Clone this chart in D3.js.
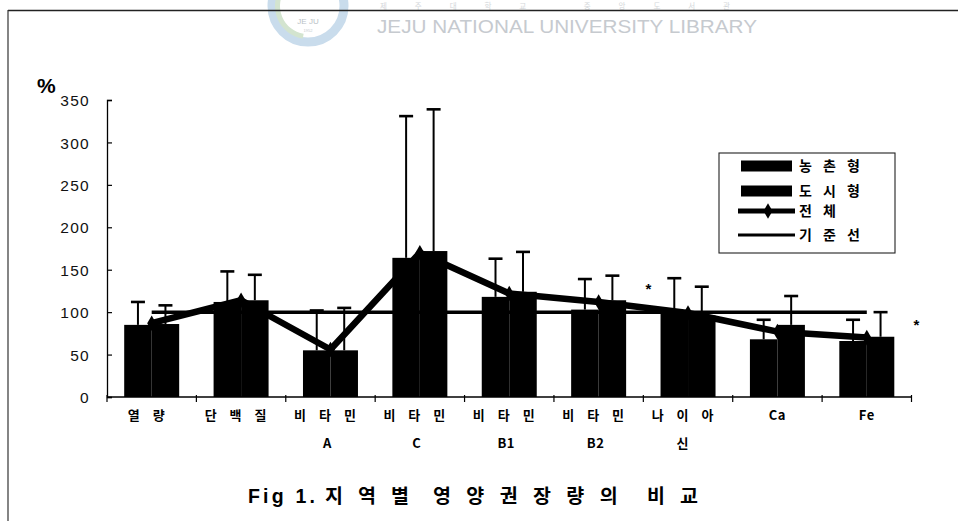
<!DOCTYPE html>
<html>
<head>
<meta charset="utf-8">
<script src="https://cdn.jsdelivr.net/npm/d3@7"></script>
<style>
  html, body { margin: 0; padding: 0; background: #fff; }
  svg { display: block; }
  .kr { font-family: "Noto Sans CJK KR", "Noto Sans", sans-serif; }
  .num { font-family: "Liberation Sans", Arial, sans-serif; }
</style>
</head>
<body>
<svg id="chart" width="958" height="521"></svg>
<script>
// Nutrient categories (axis labels split over two lines)
const categories = ["열량", "단백질", "비타민A", "비타민C", "비타민B1", "비타민B2", "나이아신", "Ca", "Fe"];
const labelLine1 = ["열 량", "단 백 질", "비 타 민", "비 타 민", "비 타 민", "비 타 민", "나 이 아", "Ca", "Fe"];
const labelLine2 = ["", "", "A", "C", "B1", "B2", "신", "", ""];

// Percent of recommended intake, mean and SD
const seriesNames = ["농촌형", "도시형"];
const ruralMean = [85, 112, 55, 164, 118, 103, 101, 68, 66];
const ruralSD   = [27, 36, 47, 167, 45, 36, 39, 23, 25];
const urbanMean = [86, 114, 55, 172, 124, 114, 96, 85, 71];
const urbanSD   = [22, 30, 50, 167, 47, 29, 34, 34, 29];
const totalMean = [87, 114, 56, 170, 122, 112, 99, 77, 70];
const standardLevel = 100;

// Significance marks: category index, value height, placement
const starMarks = [
  { cat: 6, value: 131, edge: "start" },
  { cat: 8, value: 88, edge: "end" }
];

const yTicks = [0, 50, 100, 150, 200, 250, 300, 350];
const legendLabels = ["농 촌 형", "도 시 형", "전 체", "기 준 선"];
// Caption words with their left edges
const titleWords = [
  { t: "Fig 1.", x: 248, ls: 3.2, latin: true },
  { t: "지역별", x: 325, ls: 15 },
  { t: "영양권장량의", x: 433, ls: 15.4 },
  { t: "비교", x: 647, ls: 15 }
];

const svg = d3.select("#chart");

// ---- page furniture: library watermark and frame ----
const wm = svg.append("g").attr("class", "watermark");
wm.append("circle")
  .attr("cx", 308).attr("cy", 6).attr("r", 36)
  .attr("fill", "none").attr("stroke", "#c9dcec").attr("stroke-width", 9);
wm.append("path")
  .attr("d", d3.arc()({ innerRadius: 28, outerRadius: 33, startAngle: Math.PI * 1.05, endAngle: Math.PI * 1.7 }))
  .attr("transform", "translate(308,6)")
  .attr("fill", "#d3e4cf");
wm.append("text").attr("class", "num")
  .attr("x", 308).attr("y", 24).attr("text-anchor", "middle")
  .attr("font-size", 8).attr("fill", "#b9bfc6").text("JE JU");
wm.append("text").attr("class", "num")
  .attr("x", 308).attr("y", 32).attr("text-anchor", "middle")
  .attr("font-size", 4).attr("fill", "#c4c9ce").text("1952");
wm.append("text").attr("class", "kr")
  .attr("x", 380).attr("y", 9).attr("font-size", 7.5)
  .attr("textLength", 350).attr("lengthAdjust", "spacing")
  .attr("fill", "#d4d7da").text("제주대학교 중앙도서관");
wm.append("text").attr("class", "num")
  .attr("x", 377).attr("y", 32.5).attr("font-size", 19)
  .attr("textLength", 380).attr("lengthAdjust", "spacingAndGlyphs")
  .attr("fill", "#c6cacf").text("JEJU NATIONAL UNIVERSITY  LIBRARY");

svg.append("line").attr("x1", 8).attr("x2", 958).attr("y1", 10.5).attr("y2", 10.5)
  .attr("stroke", "#222").attr("stroke-width", 1.5);
svg.append("line").attr("x1", 8).attr("x2", 8).attr("y1", 10).attr("y2", 521)
  .attr("stroke", "#333").attr("stroke-width", 1.2);

// ---- scales ----
const plotLeft = 107, plotRight = 911.5, plotTop = 100, plotBottom = 397;

const x = d3.scaleBand().domain(categories).range([plotLeft, plotRight]).paddingInner(0).paddingOuter(0);
const bw = x.bandwidth();
const groupPad = 17.2;
const xSeries = d3.scaleBand().domain(seriesNames).range([groupPad, bw - groupPad]).padding(0);
const y = d3.scaleLinear().domain([0, 350]).range([plotBottom, plotTop]);

const rows = categories.map((c, i) => ({
  cat: c,
  vals: [
    { s: seriesNames[0], mean: ruralMean[i], sd: ruralSD[i] },
    { s: seriesNames[1], mean: urbanMean[i], sd: urbanSD[i] }
  ],
  total: totalMean[i]
}));

// ---- y axis ----
const yAxis = d3.axisLeft(y).tickValues(yTicks).tickSize(-5).tickPadding(17).tickFormat(d3.format("d"));
const yG = svg.append("g").attr("transform", `translate(${plotLeft},0)`).call(yAxis);
yG.select(".domain").attr("stroke", "#000").attr("stroke-width", 1.3);
yG.selectAll(".tick line").attr("stroke", "#000").attr("stroke-width", 1.2);
yG.selectAll(".tick text")
  .attr("class", "num")
  .attr("font-size", 15.5).attr("fill", "#111")
  .attr("letter-spacing", 1.3)
  .attr("dy", "0.36em");

svg.append("text").attr("class", "num")
  .attr("x", 37).attr("y", 93).attr("font-size", 21).attr("font-weight", "bold")
  .attr("fill", "#000").text("%");

// ---- bars ----
const groups = svg.append("g").selectAll("g.cat").data(rows).join("g")
  .attr("class", "cat")
  .attr("transform", d => `translate(${x(d.cat)},0)`);

groups.selectAll("rect").data(d => d.vals).join("rect")
  .attr("x", d => xSeries(d.s))
  .attr("width", xSeries.bandwidth())
  .attr("y", d => y(d.mean))
  .attr("height", d => y(0) - y(d.mean))
  .attr("fill", "#000");

// ---- recommended level line ----
const centers = categories.map(c => x(c) + bw / 2);
svg.append("line")
  .attr("x1", centers[0]).attr("x2", centers[centers.length - 1])
  .attr("y1", y(standardLevel)).attr("y2", y(standardLevel))
  .attr("stroke", "#000").attr("stroke-width", 3.5);

// ---- total line with diamond markers ----
const totalLine = d3.line().x((d, i) => centers[i]).y(d => y(d));
svg.append("path").datum(totalMean)
  .attr("d", totalLine)
  .attr("fill", "none").attr("stroke", "#000").attr("stroke-width", 6.5)
  .attr("stroke-linejoin", "round");
svg.append("g").selectAll("path").data(totalMean).join("path")
  .attr("d", d3.symbol(d3.symbolDiamond, 70))
  .attr("transform", (d, i) => `translate(${centers[i]},${y(d)})`)
  .attr("fill", "#000");

// ---- error bars (mean + SD) ----
const eb = groups.selectAll("g.err").data(d => d.vals).join("g").attr("class", "err");
eb.append("line")
  .attr("x1", d => xSeries(d.s) + xSeries.bandwidth() / 2)
  .attr("x2", d => xSeries(d.s) + xSeries.bandwidth() / 2)
  .attr("y1", d => y(d.mean))
  .attr("y2", d => y(d.mean + d.sd))
  .attr("stroke", "#000").attr("stroke-width", 2);
eb.append("line")
  .attr("x1", d => xSeries(d.s) + xSeries.bandwidth() / 2 - 7)
  .attr("x2", d => xSeries(d.s) + xSeries.bandwidth() / 2 + 7)
  .attr("y1", d => y(d.mean + d.sd))
  .attr("y2", d => y(d.mean + d.sd))
  .attr("stroke", "#000").attr("stroke-width", 2.6);

// ---- x axis ----
svg.append("line")
  .attr("x1", plotLeft).attr("x2", plotRight)
  .attr("y1", y(0)).attr("y2", y(0))
  .attr("stroke", "#000").attr("stroke-width", 1.3);
const boundaries = categories.map(c => x(c)).concat([plotRight]);
svg.append("g").selectAll("line").data(boundaries).join("line")
  .attr("x1", d => d).attr("x2", d => d)
  .attr("y1", y(0) - 2).attr("y2", y(0) + 5)
  .attr("stroke", "#000").attr("stroke-width", 1.2);

const isHangul = s => /[\uac00-\ud7a3]/.test(s);
const labels = svg.append("g").attr("class", "kr")
  .attr("font-size", 13).attr("font-weight", "bold").attr("fill", "#000")
  .attr("text-anchor", "middle");
labels.selectAll("text.l1").data(categories).join("text").attr("class", "l1")
  .attr("x", (c, i) => x(c) + bw / 2 - (isHangul(labelLine1[i]) ? 3 : 0))
  .attr("y", 420)
  .attr("letter-spacing", (c, i) => isHangul(labelLine1[i]) ? 5 : 0.5)
  .text((c, i) => labelLine1[i]);
labels.selectAll("text.l2").data(categories).join("text").attr("class", "l2")
  .attr("x", (c, i) => x(c) + bw / 2 - 3)
  .attr("y", 448)
  .attr("letter-spacing", (c, i) => isHangul(labelLine2[i]) ? 5 : 0.5)
  .text((c, i) => labelLine2[i]);

// ---- significance asterisks ----
svg.append("g").selectAll("text").data(starMarks).join("text")
  .attr("class", "num")
  .attr("x", d => d.edge === "start" ? x(categories[d.cat]) + 5 : x(categories[d.cat]) + bw + 5)
  .attr("y", d => y(d.value) + 8)
  .attr("text-anchor", "middle")
  .attr("font-size", 15).attr("font-weight", "bold")
  .text("*");

// ---- legend ----
const lg = svg.append("g").attr("transform", "translate(719,153)");
lg.append("rect").attr("x", 0).attr("y", 0).attr("width", 176).attr("height", 100)
  .attr("fill", "#fff").attr("stroke", "#222").attr("stroke-width", 1.1);
const rowY = [13, 38, 58, 82];
lg.append("rect").attr("x", 22).attr("y", rowY[0] - 5.5).attr("width", 51).attr("height", 11).attr("fill", "#000");
lg.append("rect").attr("x", 22).attr("y", rowY[1] - 5.5).attr("width", 51).attr("height", 11).attr("fill", "#000");
lg.append("line").attr("x1", 19).attr("x2", 76).attr("y1", rowY[2]).attr("y2", rowY[2])
  .attr("stroke", "#000").attr("stroke-width", 5);
lg.append("path").attr("d", d3.symbol(d3.symbolDiamond, 70))
  .attr("transform", `translate(49,${rowY[2]})`).attr("fill", "#000");
lg.append("line").attr("x1", 19).attr("x2", 76).attr("y1", rowY[3]).attr("y2", rowY[3])
  .attr("stroke", "#000").attr("stroke-width", 3);
lg.selectAll("text").data(legendLabels).join("text")
  .attr("class", "kr")
  .attr("x", 80).attr("y", (d, i) => rowY[i] + 5)
  .attr("font-size", 14).attr("font-weight", "bold")
  .attr("letter-spacing", 4)
  .text(d => d);

// ---- figure caption ----
const cap = svg.append("text").attr("y", 503)
  .attr("font-size", 19.5).attr("font-weight", "bold").attr("fill", "#000");
cap.selectAll("tspan").data(titleWords).join("tspan")
  .attr("class", d => d.latin ? "num" : "kr")
  .attr("x", d => d.x)
  .attr("letter-spacing", d => d.ls)
  .text(d => d.t);
</script>
</body>
</html>
